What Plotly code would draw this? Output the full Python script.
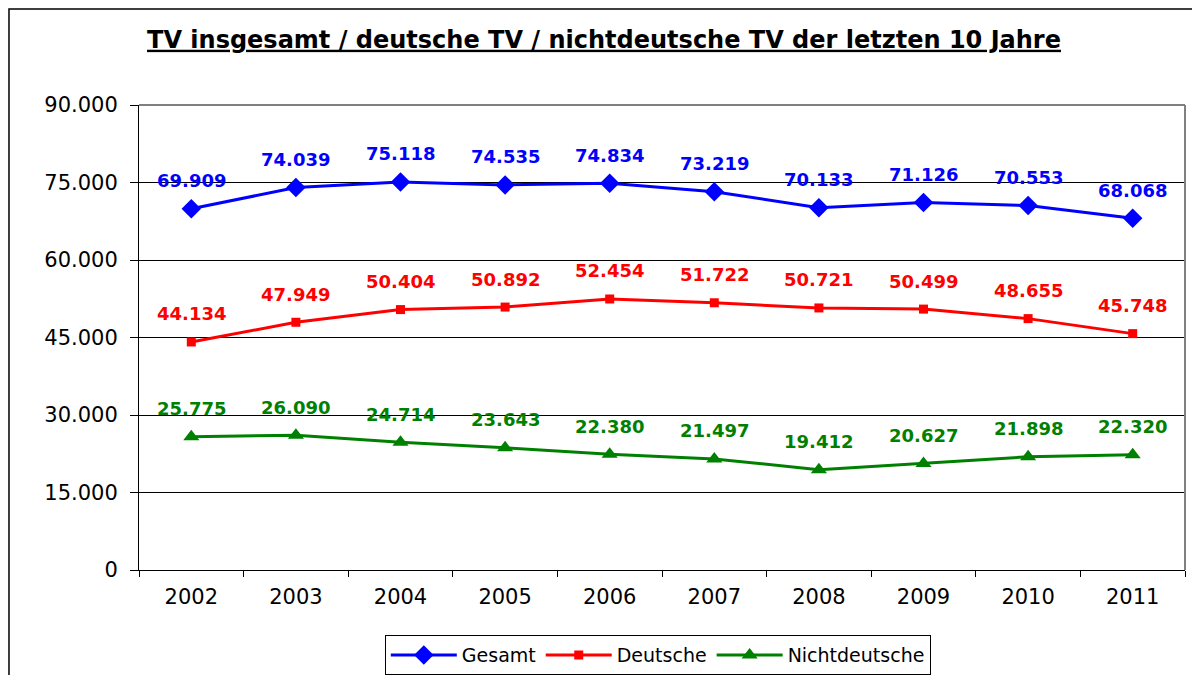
import plotly.graph_objects as go

years = ["2002", "2003", "2004", "2005", "2006", "2007", "2008", "2009", "2010", "2011"]
gesamt = [69909, 74039, 75118, 74535, 74834, 73219, 70133, 71126, 70553, 68068]
deutsche = [44134, 47949, 50404, 50892, 52454, 51722, 50721, 50499, 48655, 45748]
nichtdeutsche = [25775, 26090, 24714, 23643, 22380, 21497, 19412, 20627, 21898, 22320]

series = [
    ("Gesamt", gesamt, "#0000FF", "diamond", 15),
    ("Deutsche", deutsche, "#FF0000", "square", 9),
    ("Nichtdeutsche", nichtdeutsche, "#008000", "triangle-up", 14),
]

fig = go.Figure()
annotations = []
for name, vals, color, sym, msize in series:
    fig.add_trace(go.Scatter(
        x=years, y=vals, name=name, mode="lines+markers",
        line=dict(color=color, width=3),
        marker=dict(symbol=sym, size=msize, color=color),
    ))
    for i, yv in enumerate(vals):
        annotations.append(dict(
            x=i, y=yv, xref="x", yref="y",
            text="<b>" + f"{yv:,}".replace(",", ".") + "</b>",
            showarrow=False, yshift=28,
            font=dict(family="DejaVu Sans", size=18, color=color),
        ))

fig.update_layout(
    width=1192, height=667,
    paper_bgcolor="white", plot_bgcolor="white",
    margin=dict(l=131, r=15, t=97, b=105, autoexpand=False),
    separators=",.",
    title=dict(
        text="<u><b>TV insgesamt / deutsche TV / nichtdeutsche TV der letzten 10 Jahre</b></u>",
        x=0.5, xanchor="center", y=0.953, yanchor="middle",
        font=dict(family="DejaVu Sans", size=24, color="black"),
    ),
    showlegend=True,
    legend=dict(
        orientation="h", x=0.496, xanchor="center", y=-0.183, yanchor="middle",
        bordercolor="black", borderwidth=1, bgcolor="white",
        font=dict(family="DejaVu Sans", size=19, color="black"),
        itemwidth=66, tracegroupgap=0,
    ),
    annotations=annotations,
    xaxis=dict(
        type="category", range=[-0.5, 9.5], tickson="boundaries",
        ticks="outside", ticklen=6, tickangle=0, automargin=False,
        ticklabelstandoff=8,
        tickcolor="black", showline=True, linecolor="black", linewidth=1,
        showgrid=False, zeroline=False,
        tickfont=dict(family="DejaVu Sans", size=21, color="black"),
    ),
    yaxis=dict(
        range=[0, 90000], dtick=15000, tickformat=",d", automargin=False,
        ticks="outside", ticklen=8, tickcolor="black", ticklabelstandoff=8,
        showline=True, linecolor="black", linewidth=1,
        showgrid=True, gridcolor="black", gridwidth=1, zeroline=False,
        tickfont=dict(family="DejaVu Sans", size=21, color="black"),
    ),
    shapes=[
        dict(type="line", xref="paper", yref="paper", x0=0, x1=1, y0=1, y1=1,
             line=dict(color="#808080", width=2)),
        dict(type="line", xref="paper", yref="paper", x0=1, x1=1, y0=0, y1=1,
             line=dict(color="#808080", width=2)),
        dict(type="rect", xref="paper", yref="paper", x0=-0.1243, x1=1.2,
             y0=-0.5, y1=1.2065, line=dict(color="black", width=1.5),
             fillcolor="rgba(0,0,0,0)", layer="above"),
    ],
)

fig.write_html("out.html")
